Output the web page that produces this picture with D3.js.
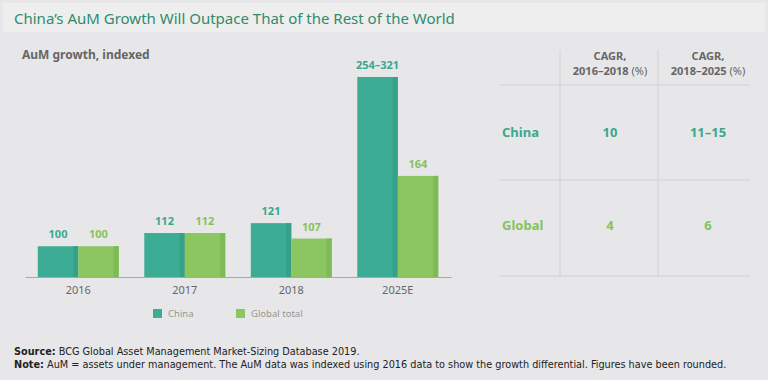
<!DOCTYPE html>
<html>
<head>
<meta charset="utf-8">
<script src="https://cdn.jsdelivr.net/npm/d3@7"></script>
<style>
  body { margin: 0; background: #e7e7e9; }
  svg { display: block; font-family: 'Noto Sans', sans-serif; }
</style>
</head>
<body>
<svg id="viz" width="768" height="380"></svg>
<script>
const years = ['2016', '2017', '2018', '2025E'];
const seriesNames = ['China', 'Global total'];
const china = [100, 112, 121, 254];
const global = [100, 112, 107, 164];
const chinaLabels = ['100', '112', '121', '254–321'];
const globalLabels = ['100', '112', '107', '164'];

const cagrHeaders = [['CAGR,', '2016–2018'], ['CAGR,', '2018–2025']];
const cagrRows = ['China', 'Global'];
const cagrValues = [['10', '11–15'], ['4', '6']];

const colors = { China: '#3dac94', 'Global total': '#8bc661' };
const shade = { China: '#36a088', 'Global total': '#7eba55' };
const textColors = { China: '#3aa88e', 'Global total': '#86c25c' };

const svg = d3.select('#viz');

// title band
svg.append('rect')
  .attr('x', 3).attr('y', 3).attr('width', 762).attr('height', 29)
  .attr('fill', '#eeeeef');

svg.append('text')
  .attr('x', 14).attr('y', 24)
  .attr('fill', '#2f8c6c')
  .style('font-size', '15px')
  .text('China’s AuM Growth Will Outpace That of the Rest of the World');

svg.append('text')
  .attr('x', 22).attr('y', 59)
  .attr('fill', '#666')
  .style('font-size', '12px')
  .style('font-weight', 'bold')
  .text('AuM growth, indexed');

const baseline = 277;

const x0 = d3.scaleBand()
  .domain(years)
  .range([25, 451])
  .paddingInner(0.24)
  .paddingOuter(0.12);

const x1 = d3.scaleBand()
  .domain(seriesNames)
  .range([0, x0.bandwidth()]);

const y = d3.scaleLinear()
  .domain([72, 254])
  .range([baseline, 77]);

const rows = years.map((yr, i) => ({
  year: yr,
  vals: [
    { name: 'China', v: china[i], label: chinaLabels[i] },
    { name: 'Global total', v: global[i], label: globalLabels[i] }
  ]
}));

const groups = svg.append('g')
  .selectAll('g').data(rows)
  .enter().append('g')
  .attr('transform', d => 'translate(' + x0(d.year) + ',0)');

const bars = groups.selectAll('g').data(d => d.vals)
  .enter().append('g');

bars.append('rect')
  .attr('x', d => x1(d.name))
  .attr('y', d => y(d.v))
  .attr('width', x1.bandwidth())
  .attr('height', d => baseline - y(d.v))
  .attr('fill', d => colors[d.name]);

bars.append('rect')
  .attr('x', d => x1(d.name) + x1.bandwidth() - 5)
  .attr('y', d => y(d.v))
  .attr('width', 5)
  .attr('height', d => baseline - y(d.v))
  .attr('fill', d => shade[d.name]);

bars.append('text')
  .attr('x', d => x1(d.name) + x1.bandwidth() / 2)
  .attr('y', d => y(d.v) - 8)
  .attr('text-anchor', 'middle')
  .attr('fill', d => textColors[d.name])
  .style('font-size', '11px')
  .style('font-weight', 'bold')
  .text(d => d.label);

const xAxis = svg.append('g')
  .attr('transform', 'translate(0,' + baseline + ')')
  .call(d3.axisBottom(x0).tickSize(0).tickPadding(9).tickSizeOuter(0));
xAxis.select('.domain').attr('stroke', '#a8a8a8').attr('stroke-width', 1.2);
xAxis.selectAll('text')
  .attr('fill', '#666')
  .style('font-size', '11px')
  .style('font-family', 'Noto Sans, sans-serif');

// legend
const legend = svg.append('g')
  .selectAll('g').data(seriesNames)
  .enter().append('g')
  .attr('transform', (d, i) => 'translate(' + (153 + i * 83) + ',309)');
legend.append('rect')
  .attr('width', 9).attr('height', 9)
  .attr('fill', d => colors[d]);
legend.append('text')
  .attr('x', 15).attr('y', 8)
  .attr('fill', '#959595')
  .style('font-size', '9.5px')
  .text(d => d);

// CAGR table
const tx = [499, 560, 658, 750];
const ty = [85, 180, 276];
const colCenter = [610, 708];
const rowCenter = [132, 225];
const table = svg.append('g');

table.selectAll('.v').data([tx[1], tx[2]])
  .enter().append('line')
  .attr('x1', d => d).attr('x2', d => d)
  .attr('y1', 50).attr('y2', 277)
  .attr('stroke', '#d2d2d4');

table.selectAll('.h').data(ty)
  .enter().append('line')
  .attr('x1', tx[0]).attr('x2', tx[3])
  .attr('y1', d => d).attr('y2', d => d)
  .attr('stroke', '#d2d2d4');

cagrHeaders.forEach((h, i) => {
  table.append('text')
    .attr('x', colCenter[i]).attr('y', 60)
    .attr('text-anchor', 'middle')
    .attr('fill', '#666')
    .style('font-size', '11px')
    .style('font-weight', 'bold')
    .text(h[0]);
  const t = table.append('text')
    .attr('x', colCenter[i]).attr('y', 75)
    .attr('text-anchor', 'middle')
    .attr('fill', '#666')
    .style('font-size', '11px');
  t.append('tspan').style('font-weight', 'bold').text(h[1]);
  t.append('tspan').text(' (%)');
});

const rowColors = [textColors.China, textColors['Global total']];
cagrRows.forEach((r, i) => {
  table.append('text')
    .attr('x', 502).attr('y', rowCenter[i] + 5)
    .attr('fill', rowColors[i])
    .style('font-size', '13px')
    .style('font-weight', 'bold')
    .text(r);
  cagrValues[i].forEach((v, j) => {
    table.append('text')
      .attr('x', colCenter[j]).attr('y', rowCenter[i] + 5)
      .attr('text-anchor', 'middle')
      .attr('fill', rowColors[i])
      .style('font-size', '13px')
      .style('font-weight', 'bold')
      .text(v);
  });
});

// footnotes
const notes = [
  ['Source:', ' BCG Global Asset Management Market-Sizing Database 2019.'],
  ['Note:', ' AuM = assets under management. The AuM data was indexed using 2016 data to show the growth differential. Figures have been rounded.']
];
const noteTexts = notes.map((n, i) => {
  const t = svg.append('text')
    .attr('x', 14).attr('y', 355 + i * 13)
    .attr('fill', '#222')
    .style('font-size', '10px')
    .style('font-family', "'DejaVu Sans Condensed', 'Liberation Sans Narrow', sans-serif");
  t.append('tspan').style('font-weight', 'bold').text(n[0]);
  t.append('tspan').text(n[1]);
  return t;
});
// size footnotes so the note line ends where it does in the original
const w = noteTexts[1].node().getComputedTextLength();
const fs = 10 * 713 / w;
noteTexts.forEach(t => t.style('font-size', fs + 'px'));
</script>
</body>
</html>
